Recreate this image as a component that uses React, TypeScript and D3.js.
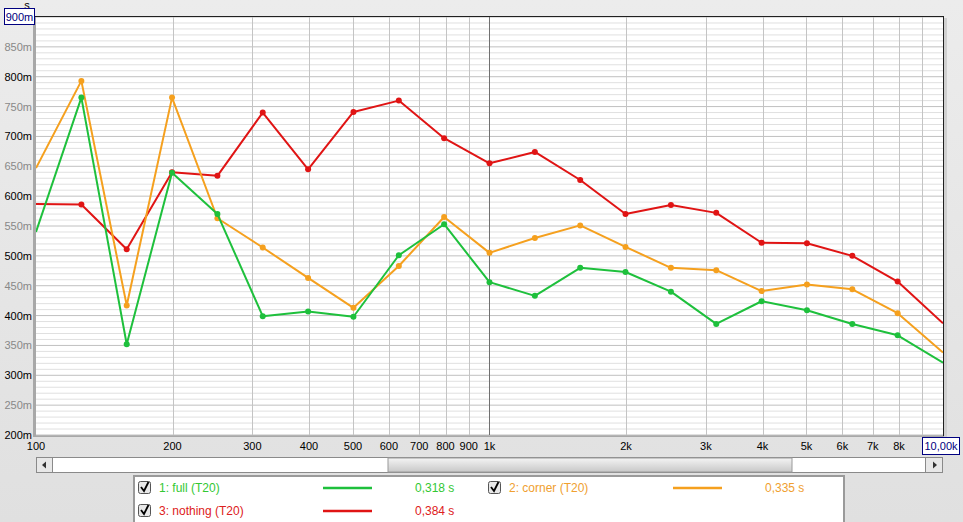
import React from "react";
import * as d3 from "d3";

const freqs = [100, 125.9, 158.5, 199.5, 251.2, 316.2, 398.1, 501.2, 631, 794.3, 1000, 1259, 1585, 1995, 2512, 3162, 3981, 5012, 6310, 7943, 10000];
const full = [540, 765, 352, 639, 570, 399, 407, 398, 501, 553, 456, 433, 480, 473, 440, 386, 424, 409, 386, 367, 321];
const corner = [647, 793, 417, 765, 563, 514, 463, 413, 483, 565, 505, 530, 551, 515, 480, 476, 441, 452, 444, 404, 338];
const nothing = [587, 586, 511, 640, 634, 740, 645, 741, 760, 697, 655, 674, 627, 570, 585, 572, 522, 521, 500, 457, 387];

const seriesNames = ["1: full (T20)", "2: corner (T20)", "3: nothing (T20)"];
const seriesValues = ["0,318 s", "0,335 s", "0,384 s"];

const yTicks = [200, 250, 300, 350, 400, 450, 500, 550, 600, 650, 700, 750, 800, 850];
const xLabelTicks = [100, 200, 300, 400, 500, 600, 700, 800, 900, 1000, 2000, 3000, 4000, 5000, 6000, 7000, 8000];
const xLabelText = ["100", "200", "300", "400", "500", "600", "700", "800", "900", "1k", "2k", "3k", "4k", "5k", "6k", "7k", "8k"];
const xGrid = [200, 300, 400, 500, 600, 700, 800, 900, 1000, 2000, 3000, 4000, 5000, 6000, 7000, 8000, 9000];

const W = 963, H = 522;
const L = 36, R = 943, T = 17, B = 435;
const FONT = "'Liberation Sans', Arial, sans-serif";

const lineColors = ["#1ec03c", "#f5a01e", "#e01414"];
const textColors = ["#33c833", "#f0a030", "#dd2020"];

export default function App() {
  const x = d3.scaleLog().domain([100, 10000]).range([L, R]);
  const y = d3.scaleLinear().domain([200, 900]).range([B, T]);
  const line = d3.line<number>().x((_, i) => x(freqs[i])).y((d) => y(d));
  const series = [full, corner, nothing];
  const minor = d3.range(200, 901, 10);
  const drawOrder = [2, 1, 0];

  const legendItems = [
    { i: 0, cx: 138, cy: 488 },
    { i: 1, cx: 488, cy: 488 },
    { i: 2, cx: 138, cy: 511 },
  ];

  return (
    <div style={{ position: "fixed", left: 0, top: 0, width: W, height: H }}>
      <svg width={W} height={H} style={{ display: "block", fontFamily: FONT }}>
        <defs>
          <clipPath id="plotclip">
            <rect x={L} y={T} width={R - L} height={B - T} />
          </clipPath>
          <linearGradient id="thumb" x1="0" y1="0" x2="0" y2="1">
            <stop offset="0" stopColor="#f4f4f4" />
            <stop offset="1" stopColor="#c8c8c8" />
          </linearGradient>
          <linearGradient id="bg" x1="0" y1="0" x2="0" y2="1">
            <stop offset="0" stopColor="#ececec" />
            <stop offset="1" stopColor="#e0e0e0" />
          </linearGradient>
        </defs>
        <rect x={0} y={0} width={W} height={H} fill="url(#bg)" />

        {/* plot frame shadows */}
        <rect x={L - 3} y={T - 1} width={3} height={B - T + 3} fill="#a8a8a8" />
        <rect x={L - 3} y={B} width={R - L + 6} height={2} fill="#a8a8a8" />
        <rect x={R + 1} y={T + 1} width={3} height={B - T + 1} fill="#d0d0d0" />
        <rect x={L} y={T} width={R - L} height={B - T} fill="#ffffff" />

        {/* minor horizontal grid */}
        {minor.map((v) => (
          <line key={"m" + v} x1={L} x2={R} y1={y(v)} y2={y(v)} stroke={v % 50 === 0 ? "#c0c0c0" : "#e0e0e0"} strokeWidth={1} />
        ))}
        {/* vertical grid */}
        {xGrid.map((f) => (
          <line key={"v" + f} x1={Math.round(x(f)) + 0.5} x2={Math.round(x(f)) + 0.5} y1={T} y2={B} stroke={f === 1000 ? "#707070" : "#c4c4c4"} strokeWidth={1} />
        ))}
        {/* top and right borders */}
        <line x1={L - 3} x2={R + 1} y1={T - 0.5} y2={T - 0.5} stroke="#202020" strokeWidth={1} />
        <line x1={R + 0.5} x2={R + 0.5} y1={T - 1} y2={B + 1} stroke="#202020" strokeWidth={1} />

        {/* series */}
        <g clipPath="url(#plotclip)">
          {drawOrder.map((si) => (
            <g key={"s" + si}>
              <path d={line(series[si]) || ""} fill="none" stroke={lineColors[si]} strokeWidth={2} strokeLinejoin="round" />
              {series[si].map((v, i) =>
                i > 0 && i < freqs.length - 1 ? (
                  <circle key={i} cx={x(freqs[i])} cy={y(v)} r={3} fill={lineColors[si]} />
                ) : null
              )}
            </g>
          ))}
        </g>

        {/* y axis labels */}
        <text x={27} y={9} fontSize={11} textAnchor="middle" fill="#000">s</text>
        {yTicks.map((v) => (
          <text key={"yt" + v} x={32} y={y(v) + 4} fontSize={11} textAnchor="end" fill={v % 100 === 0 ? "#000" : "#888"}>
            {v}m
          </text>
        ))}
        <rect x={4.5} y={8.5} width={30} height={16} fill="#fff" stroke="#000080" strokeWidth={1} />
        <text x={19.5} y={21} fontSize={11} textAnchor="middle" fill="#000080">900m</text>

        {/* x axis labels */}
        {xLabelTicks.map((f, i) => (
          <text key={"xt" + f} x={x(f)} y={450} fontSize={11} textAnchor="middle" fill="#000">
            {xLabelText[i]}
          </text>
        ))}
        <rect x={922.5} y={437.5} width={37} height={17} fill="#fff" stroke="#000080" strokeWidth={1} />
        <text x={941} y={450} fontSize={11} textAnchor="middle" fill="#000080">10,00k</text>

        {/* scrollbar */}
        <rect x={L + 0.5} y={457.5} width={R - L - 1} height={15} fill="#ffffff" stroke="#8a8a8a" />
        <rect x={388} y={458} width={404} height={14} fill="url(#thumb)" stroke="#9a9a9a" />
        <rect x={L + 0.5} y={457.5} width={16} height={15} fill="#e8e8e8" stroke="#8a8a8a" />
        <path d={`M${L + 6},465 L${L + 10},461.5 L${L + 10},468.5 Z`} fill="#333" />
        <rect x={R - 17.5} y={457.5} width={17} height={15} fill="#e8e8e8" stroke="#8a8a8a" />
        <path d={`M${R - 6},465 L${R - 10},461.5 L${R - 10},468.5 Z`} fill="#333" />

        {/* legend */}
        <rect x={134} y={476} width={710} height={50} fill="#ffffff" stroke="#9a9a9a" strokeWidth={2} />
        {legendItems.map(({ i, cx, cy }) => (
          <g key={"lg" + i}>
            <rect x={cx + 0.5} y={cy - 6.5} width={12} height={12} rx={2} fill="#e8e8e8" stroke="#555" />
            <path d={`M${cx + 3},${cy - 1} L${cx + 6},${cy + 3} L${cx + 10.5},${cy - 6}`} fill="none" stroke="#000" strokeWidth={1.8} />
            <text x={cx + 21} y={cy + 4} fontSize={12} fill={textColors[i]}>{seriesNames[i]}</text>
            <line x1={cx + 185} x2={cx + 234} y1={cy} y2={cy} stroke={lineColors[i]} strokeWidth={2.5} />
            <text x={cx + 277} y={cy + 4} fontSize={12} fill={textColors[i]}>{seriesValues[i]}</text>
          </g>
        ))}
      </svg>
    </div>
  );
}
